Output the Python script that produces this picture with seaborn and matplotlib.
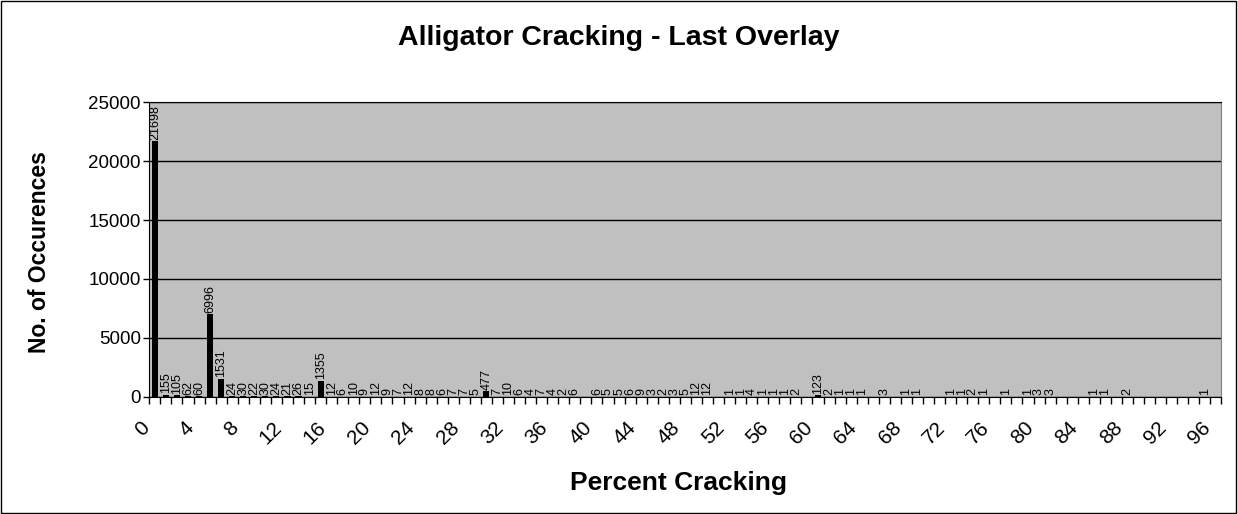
import pandas as pd
import seaborn as sns
import matplotlib.pyplot as plt
from matplotlib.patches import Rectangle
from matplotlib.transforms import ScaledTranslation, blended_transform_factory

# bar chart of crack percentages (category axis 0..96)

pct = [0, 1, 2, 3, 4, 5, 6, 7, 8, 9, 10, 11, 12, 13, 14, 15, 16, 17, 18, 19,
       20, 21, 22, 23, 24, 25, 26, 27, 28, 29, 30, 31, 32, 33, 34, 35, 36, 37, 38,
       40, 41, 42, 43, 44, 45, 46, 47, 48, 49, 50, 52, 53, 54, 55, 56, 57, 58,
       60, 61, 62, 63, 64, 66, 68, 69, 72, 73, 74, 75, 77, 79, 80, 81, 85, 86, 88, 95]
counts = [21698, 155, 105, 62, 60, 6996, 1531, 24, 30, 22, 30, 24, 21, 26, 15, 1355, 12, 6, 10, 9,
          12, 9, 7, 12, 8, 8, 6, 7, 7, 5, 477, 7, 10, 6, 4, 7, 4, 2, 6,
          6, 5, 5, 6, 9, 3, 2, 3, 5, 12, 12, 1, 1, 4, 1, 1, 1, 2,
          123, 2, 1, 1, 1, 3, 1, 1, 1, 1, 2, 1, 1, 1, 3, 3, 1, 1, 2, 1]
categories = [str(i) for i in range(97)]

df = pd.DataFrame({'Percent': [str(p) for p in pct], 'Count': counts})

plt.rcParams['font.family'] = ['Liberation Sans', 'DejaVu Sans']

fig = plt.figure(figsize=(12.38, 5.14), dpi=100)
ax = fig.add_axes([0.1206, 0.2282, 0.866, 0.5728])
sns.barplot(x='Percent', y='Count', data=df, order=categories, color='black',
            width=0.55, saturation=1, ax=ax)
ax.set_facecolor('#C0C0C0')

ax.bar_label(ax.containers[0], fmt='%d', rotation=90, padding=1, fontsize=9)

ax.set_ylim(0, 25000)
ax.set_yticks(range(0, 25001, 5000))
ax.yaxis.grid(True, color='black', linewidth=1)
ax.set_axisbelow(True)

# tick marks between categories, labels every 4 categories drawn as text
ax.set_xticks([i - 0.5 for i in range(98)])
ax.set_xticklabels([])
ax.set_xlim(-0.5, len(categories) - 0.5)
ax.tick_params(axis='x', length=5, width=1, direction='out')
ax.tick_params(axis='y', length=4, width=1, pad=2, labelsize=13.5)

trans = blended_transform_factory(ax.transData, ax.transAxes) + \
    ScaledTranslation(-0.15, -0.21, fig.dpi_scale_trans)
for i in range(0, 97, 4):
    ax.text(i, 0, categories[i], transform=trans, fontsize=15, rotation=45,
            ha='right', va='top', rotation_mode='anchor', clip_on=False)

for side in ['left', 'bottom', 'top']:
    ax.spines[side].set_color('black')
ax.spines['right'].set_color('#808080')

ax.set_xlabel('')
ax.set_ylabel('')
fig.text(0.5, 1 - 38 / 514, 'Alligator Cracking - Last Overlay', fontsize=20.5,
         fontweight='bold', ha='center', va='center')
fig.text(678 / 1238, 1 - 483 / 514, 'Percent Cracking', fontsize=19,
         fontweight='bold', ha='center', va='center')
fig.text(40 / 1238, 1 - 252 / 514, 'No. of Occurences', fontsize=16.5,
         fontweight='bold', ha='center', va='center', rotation=90)

fig.patches.append(Rectangle((0.001, 0.002), 0.997, 0.996, transform=fig.transFigure,
                             fill=False, edgecolor='black', linewidth=1))

plt.savefig('out.png', dpi=100)
